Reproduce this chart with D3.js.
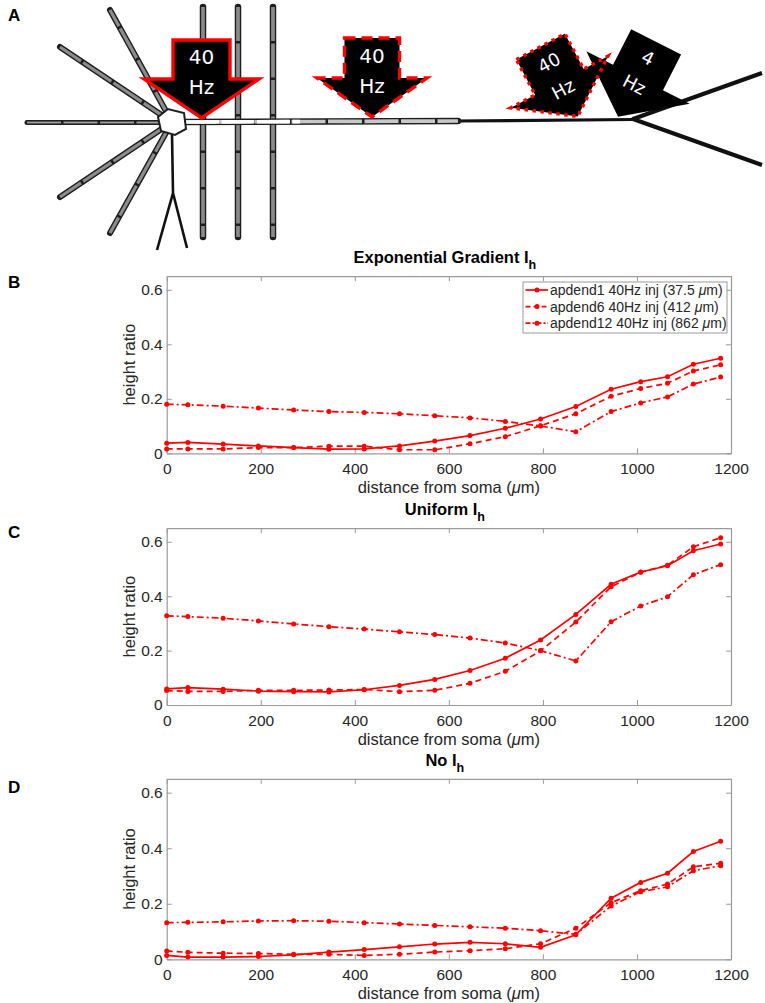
<!DOCTYPE html>
<html>
<head>
<meta charset="utf-8">
<script src="https://cdn.jsdelivr.net/npm/d3@7"></script>
<style>
body{margin:0;background:#fff;}
svg{display:block;}
</style>
</head>
<body>
<div id="chart"></div>
<script>

// distance of each recording site from soma (um)
var dist = [0, 45, 120, 195, 270, 345, 420, 495, 570, 645, 720, 795, 870, 945, 1008, 1065, 1120, 1178];

// B: exponential gradient Ih
var expApdend1  = [0.037, 0.040, 0.034, 0.027, 0.021, 0.015, 0.016, 0.027, 0.045, 0.065, 0.092, 0.126, 0.172, 0.235, 0.263, 0.281, 0.327, 0.349];
var expApdend6  = [0.016, 0.016, 0.016, 0.021, 0.021, 0.026, 0.026, 0.013, 0.013, 0.035, 0.061, 0.101, 0.145, 0.209, 0.238, 0.257, 0.302, 0.325];
var expApdend12 = [0.180, 0.178, 0.173, 0.166, 0.159, 0.153, 0.150, 0.145, 0.138, 0.130, 0.117, 0.100, 0.079, 0.153, 0.185, 0.207, 0.254, 0.280];

// C: uniform Ih
var uniApdend1  = [0.059, 0.064, 0.058, 0.051, 0.049, 0.048, 0.056, 0.072, 0.094, 0.127, 0.172, 0.239, 0.333, 0.444, 0.489, 0.512, 0.567, 0.592];
var uniApdend6  = [0.053, 0.050, 0.050, 0.054, 0.054, 0.055, 0.057, 0.049, 0.054, 0.080, 0.124, 0.199, 0.305, 0.435, 0.488, 0.514, 0.582, 0.615];
var uniApdend12 = [0.328, 0.325, 0.319, 0.309, 0.298, 0.288, 0.279, 0.269, 0.259, 0.246, 0.228, 0.200, 0.162, 0.306, 0.364, 0.398, 0.479, 0.516];

// D: no Ih
var noApdend1  = [0.014, 0.008, 0.008, 0.010, 0.016, 0.026, 0.035, 0.045, 0.055, 0.061, 0.056, 0.043, 0.088, 0.220, 0.277, 0.310, 0.388, 0.425];
var noApdend6  = [0.030, 0.025, 0.022, 0.021, 0.018, 0.018, 0.014, 0.018, 0.026, 0.031, 0.038, 0.056, 0.112, 0.204, 0.247, 0.271, 0.333, 0.346];
var noApdend12 = [0.132, 0.133, 0.135, 0.138, 0.139, 0.137, 0.132, 0.127, 0.122, 0.117, 0.112, 0.103, 0.090, 0.192, 0.243, 0.261, 0.319, 0.337];

var xTicks = [0, 200, 400, 600, 800, 1000, 1200];
var yTicks = [0, 0.2, 0.4, 0.6];
var legendNames = ["apdend1 40Hz inj (37.5 ", "apdend6 40Hz inj (412 ", "apdend12 40Hz inj (862 "];
var titles = ["Exponential Gradient I", "Uniform I", "No I"];

var red = "#ff0000";
var dashes = [null, "6,4", "7,3,2,3"];
var font = "'Liberation Sans', Arial, sans-serif";

var svg = d3.select("#chart").append("svg")
    .attr("width", 765)
    .attr("height", 1003)
    .style("background", "#fff");

//panel letters
svg.selectAll("text.letter")
    .data([["A", 21], ["B", 288], ["C", 538], ["D", 793]])
    .enter().append("text")
    .attr("class", "letter")
    .attr("x", 8).attr("y", function(d) {return d[1];})
    .text(function(d) {return d[0];})
    .style("font-family", font).style("font-weight", "bold").style("font-size", "17px");


// ---------- A: neuron sketch ----------
var ga = svg.append("g");

function rod(x1, y1, x2, y2, inner, w) {
    ga.append("line").attr("x1", x1).attr("y1", y1).attr("x2", x2).attr("y2", y2)
        .attr("stroke", "#1e1e1e").attr("stroke-width", w).attr("stroke-linecap", "round");
    ga.append("line").attr("x1", x1).attr("y1", y1).attr("x2", x2).attr("y2", y2)
        .attr("stroke", inner).attr("stroke-width", w - 2.8)
        .attr("stroke-dasharray", "34,2.5");
}

var somaX = 172, somaY = 122;

// basal dendrites
rod(27, 122.5, somaX - 8, 122.5, "#9a9a9a", 5);
rod(somaX, somaY, 60, 47, "#8c8c8c", 6);
rod(somaX, somaY, 110, 10, "#8c8c8c", 6);
rod(somaX, somaY, 60, 197, "#8c8c8c", 6);
rod(somaX, somaY, 110, 233, "#8c8c8c", 6);

// obliques
[203, 238, 273].forEach(function(xx) { rod(xx, 7, xx, 237, "#8a8a8a", 6.5); });

// apical trunk
ga.append("line").attr("x1", 455).attr("y1", 121).attr("x2", 633).attr("y2", 119.5)
    .attr("stroke", "#111").attr("stroke-width", 3.2);
rod(182, 122, 458, 121, "#c8c8c8", 6.5);
ga.append("line").attr("x1", 186).attr("y1", 122).attr("x2", 300).attr("y2", 121.6)
    .attr("stroke", "#fff").attr("stroke-width", 3.6).attr("stroke-dasharray", "33,2.5");

// tuft
ga.append("path").attr("d", "M762,73 L633,119 L762,165")
    .attr("fill", "none").attr("stroke", "#111").attr("stroke-width", 4).attr("stroke-linejoin", "round");

// axon
ga.append("path").attr("d", "M172,134 L173,193 L157,250 M173,193 L187,248")
    .attr("fill", "none").attr("stroke", "#111").attr("stroke-width", 2.6);

// soma
ga.append("polygon")
    .attr("points", [[-14,-5],[-4,-13],[12,-9],[14,7],[3,13],[-11,9]]
        .map(function(p) {return (somaX + p[0]) + "," + (somaY + p[1]);}).join(" "))
    .attr("fill", "#fff").attr("stroke", "#1e1e1e").attr("stroke-width", 2);

function arrow(cx, cy, rot, bw, hw, top, tip, stroke, dash, fs, t1, t2) {
    var g = ga.append("g").attr("transform", "translate(" + cx + "," + cy + ") rotate(" + rot + ")");
    var pts = [[-bw, top], [bw, top], [bw, 0], [hw, 0], [0, tip], [-hw, 0], [-bw, 0]];
    var poly = g.append("polygon")
        .attr("points", pts.map(function(p) {return p.join(",");}).join(" "))
        .attr("fill", "#000");
    if (stroke) {
        poly.attr("stroke", red).attr("stroke-width", 3.4).attr("stroke-linejoin", "miter");
        if (dash) poly.attr("stroke-dasharray", dash);
    }
    g.selectAll("text").data([[t1, -22], [t2, 8]]).enter().append("text")
        .attr("x", 0).attr("y", function(d) {return d[1];}).attr("dy", "0.36em")
        .attr("text-anchor", "middle")
        .text(function(d) {return d[0];})
        .style("font-family", "'DejaVu Sans', Verdana, sans-serif")
        .style("font-size", fs + "px").style("fill", "#fff");
}

arrow(201.5, 79, 0, 28.5, 57.5, -39, 39, true, null, 20, "40", "Hz");
arrow(372, 78, 0, 27.5, 55, -40, 39, true, "11,6", 20, "40", "Hz");
arrow(638, 77.5, 27, 28, 58, -40, 44, false, null, 18, "4", "Hz");
arrow(559.4, 82, -28, 27.5, 55, -40, 39, true, "3.5,4.5", 18, "40", "Hz");


// ---------- B, C, D: line charts ----------
var panels = [
    {top: 276.2, bottom: 453.3, title: titles[0], series: [expApdend1, expApdend6, expApdend12], legend: true},
    {top: 528.2, bottom: 705, title: titles[1], series: [uniApdend1, uniApdend6, uniApdend12], legend: false},
    {top: 778.8, bottom: 959.3, title: titles[2], series: [noApdend1, noApdend6, noApdend12], legend: false}
];

var x = d3.scaleLinear().domain([0, 1200]).range([166.7, 731]);

panels.forEach(function(p) {

    var y = d3.scaleLinear().domain([0, 0.65]).range([p.bottom, p.top]);
    var g = svg.append("g");

    g.append("rect")
        .attr("x", x(0)).attr("y", p.top)
        .attr("width", x(1200) - x(0)).attr("height", p.bottom - p.top)
        .attr("fill", "#fff");

    //axes, ticks mirrored inside the box
    var axB = g.append("g").attr("transform", "translate(0," + p.bottom + ")")
        .call(d3.axisBottom(x).tickValues(xTicks).tickSizeInner(-5).tickSizeOuter(0).tickPadding(10).tickFormat(d3.format("d")));
    var axT = g.append("g").attr("transform", "translate(0," + p.top + ")")
        .call(d3.axisTop(x).tickValues(xTicks).tickSizeInner(-5).tickSizeOuter(0).tickFormat(""));
    var axL = g.append("g").attr("transform", "translate(" + x(0) + ",0)")
        .call(d3.axisLeft(y).tickValues(yTicks).tickSizeInner(-5).tickSizeOuter(0).tickPadding(4).tickFormat(String));
    var axR = g.append("g").attr("transform", "translate(" + x(1200) + ",0)")
        .call(d3.axisRight(y).tickValues(yTicks).tickSizeInner(-5).tickSizeOuter(0).tickFormat(""));

    [axB, axT, axL, axR].forEach(function(a) {
        a.select(".domain").attr("stroke", "#9a9a9a").attr("stroke-width", 1.2);
        a.selectAll(".tick line").attr("stroke", "#9a9a9a");
        a.selectAll(".tick text").style("font-family", font).style("font-size", "15.5px").style("fill", "#262626");
    });

    //data lines
    var line = d3.line()
        .x(function(d, i) {return x(dist[i]);})
        .y(function(d) {return y(d);});

    p.series.forEach(function(s, k) {
        g.append("path")
            .datum(s)
            .attr("d", line)
            .attr("fill", "none")
            .attr("stroke", red)
            .attr("stroke-width", 1.7)
            .attr("stroke-dasharray", dashes[k]);
        g.selectAll("circle.s" + k)
            .data(s).enter().append("circle")
            .attr("class", "s" + k)
            .attr("cx", function(d, i) {return x(dist[i]);})
            .attr("cy", function(d) {return y(d);})
            .attr("r", 2.5)
            .attr("fill", red);
    });

    //title with subscript h
    var t = g.append("text")
        .attr("x", (x(0) + x(1200)) / 2 - 4).attr("y", p.top - 13)
        .attr("text-anchor", "middle")
        .style("font-family", font).style("font-weight", "bold").style("font-size", "16.5px");
    t.append("tspan").text(p.title);
    t.append("tspan").attr("dy", 6).style("font-size", "12.5px").text("h");

    //axis titles
    var xt = g.append("text")
        .attr("x", (x(0) + x(1200)) / 2).attr("y", p.bottom + 40)
        .attr("text-anchor", "middle")
        .style("font-family", font).style("font-size", "16.5px").style("fill", "#262626");
    xt.append("tspan").text("distance from soma (");
    xt.append("tspan").style("font-style", "italic").text("\u03bc");
    xt.append("tspan").text("m)");

    g.append("text")
        .attr("transform", "translate(135," + ((p.top + p.bottom) / 2) + ") rotate(-90)")
        .attr("text-anchor", "middle")
        .text("height ratio")
        .style("font-family", font).style("font-size", "16.5px").style("fill", "#262626");

    if (p.legend) {
        var lg = g.append("g");
        lg.append("rect")
            .attr("x", 523).attr("y", 282).attr("width", 204).attr("height", 51)
            .attr("fill", "#fff").attr("stroke", "#9a9a9a").attr("stroke-width", 1);
        legendNames.forEach(function(name, k) {
            var ly = 290 + k * 16.6;
            lg.append("line")
                .attr("x1", 525.5).attr("x2", 548).attr("y1", ly).attr("y2", ly)
                .attr("stroke", red).attr("stroke-width", 1.7)
                .attr("stroke-dasharray", dashes[k] ? (k == 1 ? "5,3" : "5,2,2,2") : null);
            lg.append("circle").attr("cx", 537).attr("cy", ly).attr("r", 2.5).attr("fill", red);
            var lt = lg.append("text")
                .attr("x", 550).attr("y", ly + 5)
                .style("font-family", font).style("font-size", "14px").style("fill", "#262626");
            lt.append("tspan").text(name);
            lt.append("tspan").style("font-style", "italic").text("\u03bc");
            lt.append("tspan").text("m)");
        });
    }
});

</script>
</body>
</html>
